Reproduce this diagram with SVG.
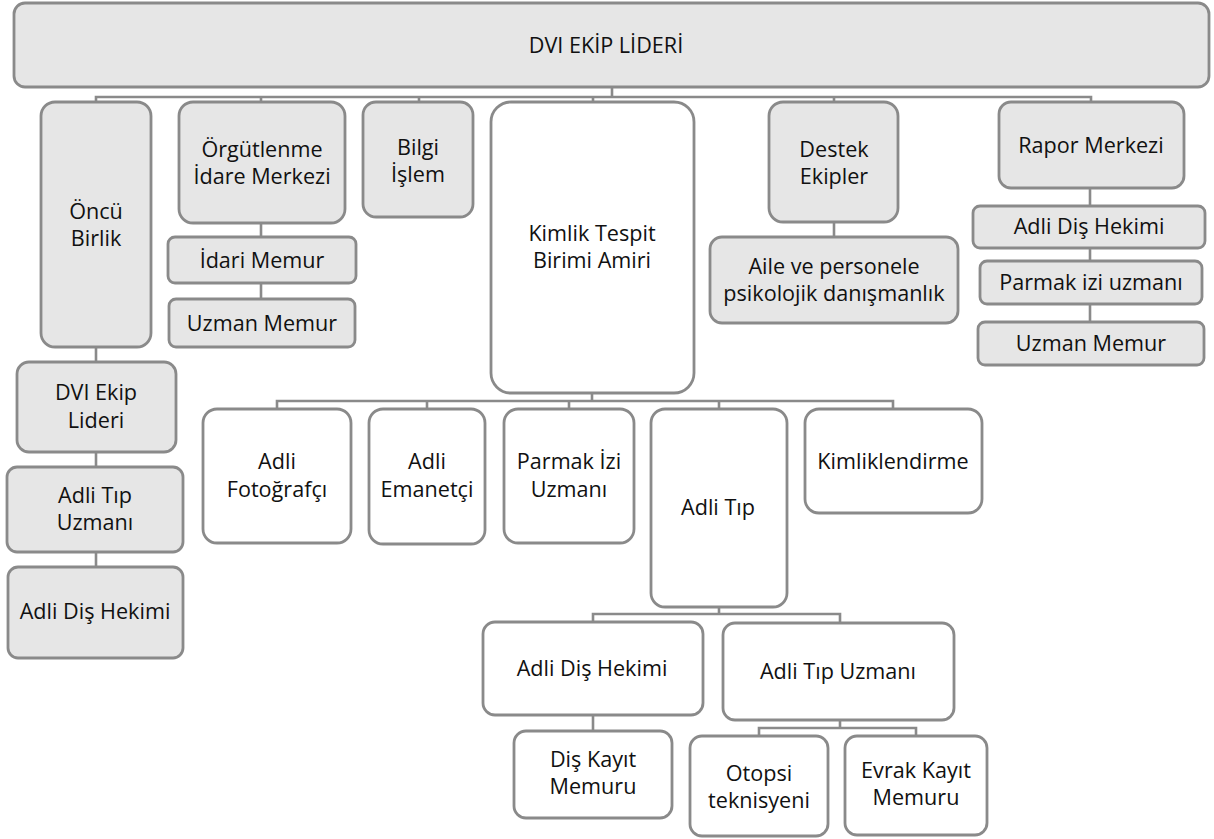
<svg xmlns="http://www.w3.org/2000/svg" width="1214" height="839" viewBox="0 0 1214 839">
<style>
.g{fill:#e6e6e6;stroke:#8a8a8a;stroke-width:2.8}
.w{fill:#ffffff;stroke:#8a8a8a;stroke-width:2.8}
text{font-family:"Open Sans","Noto Sans","Liberation Sans",sans-serif;font-size:21.6px;fill:#111;text-anchor:middle}
#connectors path{fill:none;stroke:#8a8a8a;stroke-width:2.6}
</style>
<rect width="1214" height="839" fill="#fff"/>
<g id="connectors">
<path d="M612 87V97M96 102V97H1091V102M261 97V102M419 97V102M593 97V102M834 97V102"/>
<path d="M261 223V237M261 283V299"/>
<path d="M96 347V362M96 452V467M96 552V567"/>
<path d="M834 222V237"/>
<path d="M1090 188V206M1090 248V261M1090 304V322"/>
<path d="M592 393V401M277 409V401H893V409M427 401V409M569 401V409M719 401V409"/>
<path d="M719 607V614M593 622V614H840V623"/>
<path d="M593 715V731"/>
<path d="M840 720V728M759 736V728H916V736"/>
</g>
<g id="n-top"><rect class="g" x="14" y="3" width="1195" height="84" rx="11"/><text x="606" y="53">DVI EKİP LİDERİ</text></g>
<g id="n-oncu"><rect class="g" x="41" y="102" width="110" height="245" rx="14"/><text x="96" y="219">Öncü</text><text x="96" y="246">Birlik</text></g>
<g id="n-orgut"><rect class="g" x="179" y="102" width="166" height="121" rx="14"/><text x="262" y="157">Örgütlenme</text><text x="262" y="184">İdare Merkezi</text></g>
<g id="n-bilgi"><rect class="g" x="363" y="102" width="110" height="115" rx="13"/><text x="418" y="155">Bilgi</text><text x="418" y="182">İşlem</text></g>
<g id="n-kimlik"><rect class="w" x="491" y="102" width="203" height="291" rx="20"/><text x="592" y="241">Kimlik Tespit</text><text x="592" y="268">Birimi Amiri</text></g>
<g id="n-destek"><rect class="g" x="769" y="102" width="129" height="120" rx="14"/><text x="834" y="157">Destek</text><text x="834" y="184">Ekipler</text></g>
<g id="n-rapor"><rect class="g" x="999" y="102" width="185" height="86" rx="12"/><text x="1091" y="153">Rapor Merkezi</text></g>
<g id="n-idari"><rect class="g" x="168" y="237" width="188" height="46" rx="7"/><text x="262" y="268">İdari Memur</text></g>
<g id="n-uzmanmemur1"><rect class="g" x="169" y="299" width="186" height="48" rx="7"/><text x="262" y="331">Uzman Memur</text></g>
<g id="n-dviekip"><rect class="g" x="17" y="362" width="159" height="90" rx="12"/><text x="96" y="400">DVI Ekip</text><text x="96" y="428">Lideri</text></g>
<g id="n-adlitipuz1"><rect class="g" x="7" y="467" width="176" height="85" rx="10"/><text x="95" y="503">Adli Tıp</text><text x="95" y="530">Uzmanı</text></g>
<g id="n-adlidis1"><rect class="g" x="8" y="567" width="175" height="91" rx="10"/><text x="95" y="619">Adli Diş Hekimi</text></g>
<g id="n-aile"><rect class="g" x="710" y="237" width="248" height="86" rx="12"/><text x="834" y="274">Aile ve personele</text><text x="834" y="301">psikolojik danışmanlık</text></g>
<g id="n-adlidis2"><rect class="g" x="973" y="206" width="232" height="42" rx="7"/><text x="1089" y="234">Adli Diş Hekimi</text></g>
<g id="n-parmak2"><rect class="g" x="980" y="261" width="222" height="43" rx="7"/><text x="1091" y="290">Parmak izi uzmanı</text></g>
<g id="n-uzmanmemur2"><rect class="g" x="978" y="322" width="226" height="43" rx="7"/><text x="1091" y="351">Uzman Memur</text></g>
<g id="n-foto"><rect class="w" x="203" y="409" width="148" height="134" rx="14"/><text x="277" y="469">Adli</text><text x="277" y="497">Fotoğrafçı</text></g>
<g id="n-emanet"><rect class="w" x="369" y="409" width="116" height="135" rx="14"/><text x="427" y="469">Adli</text><text x="427" y="497">Emanetçi</text></g>
<g id="n-parmak"><rect class="w" x="504" y="409" width="130" height="134" rx="14"/><text x="569" y="469">Parmak İzi</text><text x="569" y="497">Uzmanı</text></g>
<g id="n-adlitip"><rect class="w" x="651" y="409" width="136" height="198" rx="14"/><text x="718" y="515">Adli Tıp</text></g>
<g id="n-kimliklendirme"><rect class="w" x="805" y="409" width="177" height="104" rx="14"/><text x="893" y="469">Kimliklendirme</text></g>
<g id="n-adlidis3"><rect class="w" x="483" y="622" width="220" height="93" rx="12"/><text x="592" y="676">Adli Diş Hekimi</text></g>
<g id="n-adlitipuz2"><rect class="w" x="723" y="623" width="231" height="97" rx="12"/><text x="838" y="679">Adli Tıp Uzmanı</text></g>
<g id="n-diskayit"><rect class="w" x="514" y="731" width="158" height="87" rx="12"/><text x="593" y="767">Diş Kayıt</text><text x="593" y="794">Memuru</text></g>
<g id="n-otopsi"><rect class="w" x="690" y="736" width="138" height="100" rx="12"/><text x="759" y="781">Otopsi</text><text x="759" y="808">teknisyeni</text></g>
<g id="n-evrak"><rect class="w" x="845" y="736" width="142" height="99" rx="12"/><text x="916" y="778">Evrak Kayıt</text><text x="916" y="805">Memuru</text></g>
</svg>
